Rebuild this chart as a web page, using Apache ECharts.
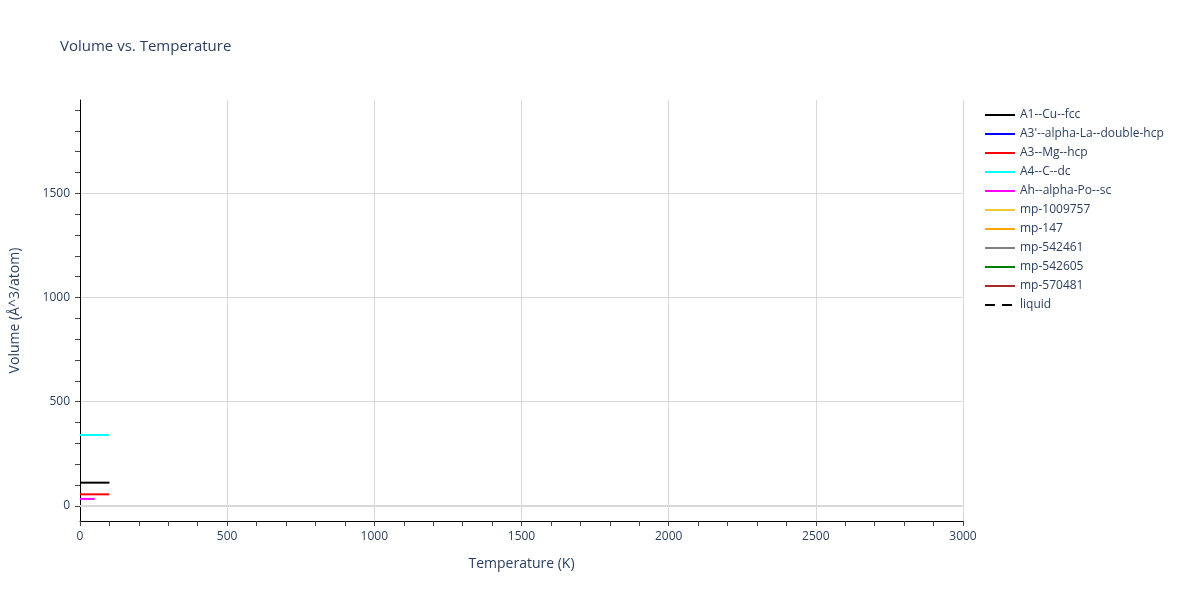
<!DOCTYPE html>
<html>
<head>
<meta charset="utf-8">
<script src="https://cdn.jsdelivr.net/npm/echarts@6/dist/echarts.min.js"></script>
<style>html,body{margin:0;padding:0;background:#fff}#c{width:1200px;height:600px}</style>
</head>
<body>
<div id="c"></div>
<script>
// Data
const seriesNames = ['A1--Cu--fcc', "A3'--alpha-La--double-hcp", 'A3--Mg--hcp', 'A4--C--dc', 'Ah--alpha-Po--sc', 'mp-1009757', 'mp-147', 'mp-542461', 'mp-542605', 'mp-570481', 'liquid'];
const seriesColors = ['#000000', '#0000ff', '#ff0000', '#00ffff', '#ff00ff', '#f0c835', '#ffa500', '#808080', '#008000', '#a52a2a', '#000000'];
const tempA1 = [0, 100];
const volA1 = [111, 111];
const tempA3 = [0, 100];
const volA3 = [55, 55];
const tempA4 = [0, 100];
const volA4 = [340, 340];
const tempAh = [0, 50];
const volAh = [33, 33];
const yTickLabels = [0, 500, 1000, 1500];
const yMinorTicks = [0, 100, 200, 300, 400, 500, 600, 700, 800, 900, 1000, 1100, 1200, 1300, 1400, 1500, 1600, 1700, 1800, 1900];

function pairs(xs, ys) { return xs.map((x, i) => [x, ys[i]]); }
const dataMap = {
  'A1--Cu--fcc': pairs(tempA1, volA1),
  'A3--Mg--hcp': pairs(tempA3, volA3),
  'A4--C--dc': pairs(tempA4, volA4),
  'Ah--alpha-Po--sc': pairs(tempAh, volAh)
};

const textColor = '#2a3f5f';
const font = 'Open Sans, Verdana, sans-serif';
const yMin = -73, yMax = 1948;

const series = seriesNames.map((n, i) => ({
  name: n,
  type: 'line',
  data: dataMap[n] || [],
  symbol: 'none',
  showSymbol: false,
  color: seriesColors[i],
  lineStyle: { width: 2, color: seriesColors[i], type: n === 'liquid' ? [10, 7] : 'solid' },
  z: 5,
  animation: false
}));
series.push({
  name: '__zero',
  type: 'line',
  data: [],
  symbol: 'none',
  silent: true,
  markLine: {
    silent: true,
    symbol: 'none',
    label: { show: false },
    lineStyle: { color: '#d9d9d9', width: 2, type: 'solid' },
    data: [{ yAxis: 0 }],
    animation: false
  },
  z: 2
});

const chart = echarts.init(document.getElementById('c'));
chart.setOption({
  animation: false,
  title: {
    text: 'Volume vs. Temperature',
    left: 55, top: 34,
    textStyle: { color: textColor, fontSize: 15, fontWeight: 'normal', fontFamily: font }
  },
  legend: {
    data: seriesNames.map(n => ({ name: n })),
    orient: 'vertical',
    left: 979, top: 104,
    itemWidth: 30, itemHeight: 12, itemGap: 7,
    itemStyle: { opacity: 0, borderWidth: 0 },
    textStyle: { color: textColor, fontSize: 12, fontFamily: font }
  },
  grid: { left: 79, right: 237, top: 100, bottom: 79, containLabel: false },
  xAxis: {
    type: 'value',
    min: 0, max: 3000, interval: 500,
    name: 'Temperature (K)',
    nameLocation: 'middle', nameGap: 36,
    nameTextStyle: { color: textColor, fontSize: 14, fontFamily: font },
    axisLine: { show: true, onZero: false, lineStyle: { color: '#000', width: 1 } },
    axisTick: { show: true, inside: false, length: 5, lineStyle: { color: '#444' } },
    minorTick: { show: true, splitNumber: 5, length: 5, lineStyle: { color: '#444' } },
    axisLabel: { color: textColor, fontSize: 12, margin: 10, fontFamily: font, formatter: v => String(v) },
    splitLine: { show: true, lineStyle: { color: '#d9d9d9', width: 1 } }
  },
  yAxis: [{
    type: 'value',
    min: yMin, max: yMax,
    name: 'Volume (Å^3/atom)',
    nameLocation: 'middle', nameGap: 58,
    nameTextStyle: { color: textColor, fontSize: 14, fontFamily: font },
    axisLine: { show: true, onZero: false, lineStyle: { color: '#000', width: 1 } },
    axisTick: { show: false, customValues: yTickLabels },
    axisLabel: { color: textColor, fontSize: 12, margin: 10, customValues: yTickLabels, fontFamily: font, formatter: v => String(v) },
    splitLine: { show: true, lineStyle: { color: '#d9d9d9', width: 1 } }
  }, {
    type: 'value',
    min: yMin, max: yMax,
    position: 'left',
    axisLine: { show: false, onZero: false },
    axisTick: { show: true, inside: false, length: 5, customValues: yMinorTicks, lineStyle: { color: '#444' } },
    axisLabel: { show: false },
    splitLine: { show: false }
  }],
  series: series
});
</script>
</body>
</html>
